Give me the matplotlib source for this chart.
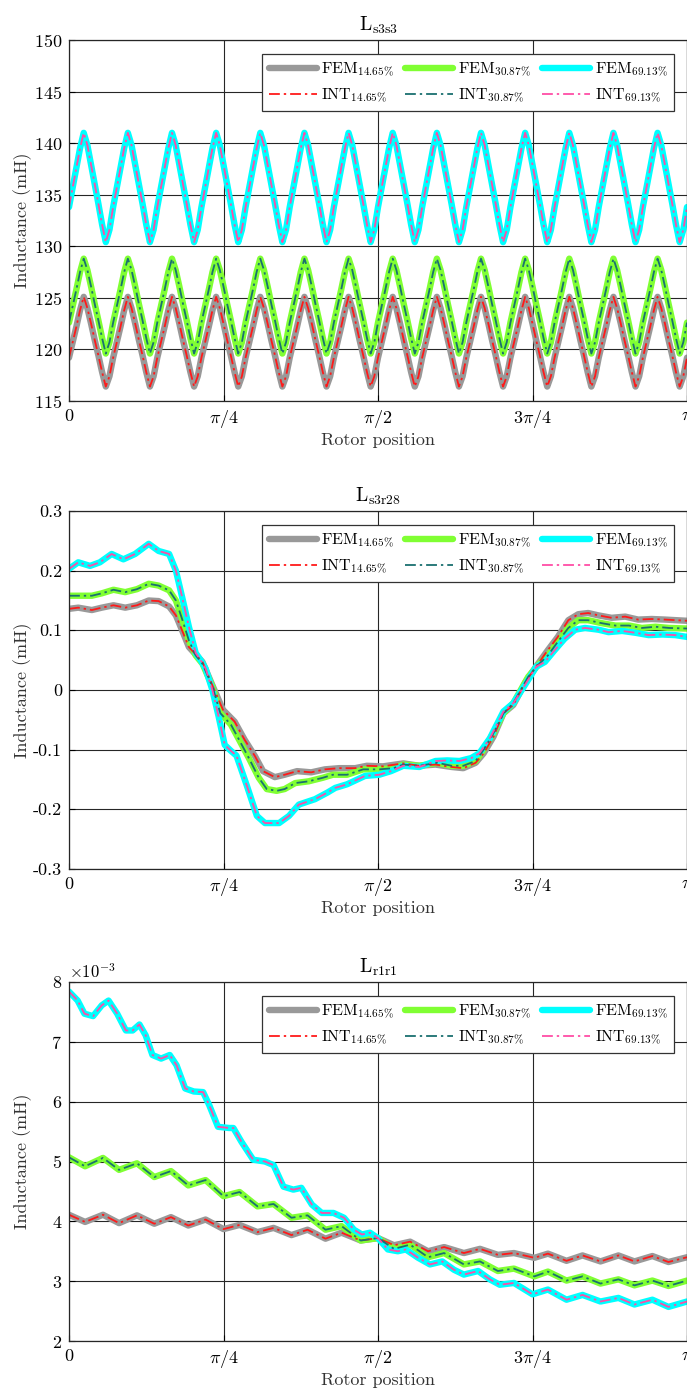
import matplotlib
matplotlib.use("Agg")
import matplotlib.pyplot as plt
import numpy as np

plt.rcParams.update({
    "font.family": "serif",
    "font.serif": ["cmr10"],
    "mathtext.fontset": "cm",
    "axes.formatter.use_mathtext": True,
    "axes.unicode_minus": False,
})

# ---- shared labels / styles ----
SERIES = ["14.65", "30.87", "69.13"]
FEM_COLORS = ["#999999", "#80ff33", "#00ffff"]
INT_COLORS = ["#ff1a1a", "#1a7070", "#ff4da6"]
X_TICKS_PI = [0, 0.25, 0.5, 0.75, 1.0]
X_TICKLABELS = [r"$0$", r"$\pi/4$", r"$\pi/2$", r"$3\pi/4$", r"$\pi$"]

# ---- L_s3s3 (mH): 14 identical slot cycles, 12 readings per cycle ----
N_CYCLES_S3S3 = 14
CYCLE_14_S3S3 = [119.2, 120.7, 122.2, 123.8, 125.1, 124.0, 122.5, 120.9, 119.4, 117.8, 116.4, 117.4]
CYCLE_30_S3S3 = [122.6, 124.2, 125.8, 127.5, 128.8, 127.7, 126.1, 124.4, 122.8, 121.1, 119.6, 120.7]
CYCLE_69_S3S3 = [133.8, 135.7, 137.6, 139.5, 141.0, 139.8, 137.9, 136.0, 134.1, 132.1, 130.4, 131.6]

# ---- L_s3r28 (mH), x in units of pi ----
X14_S3R28 = [0, 0.015, 0.037, 0.053, 0.072, 0.091, 0.110, 0.129, 0.145, 0.162,
             0.173, 0.183, 0.194, 0.216, 0.232, 0.249, 0.268, 0.284, 0.301, 0.314,
             0.333, 0.349, 0.369, 0.392, 0.414, 0.437, 0.463, 0.482, 0.508, 0.541,
             0.567, 0.593, 0.619, 0.638, 0.658, 0.671, 0.687, 0.703, 0.719, 0.739,
             0.759, 0.775, 0.791, 0.808, 0.824, 0.840, 0.857, 0.878, 0.900, 0.921,
             0.943, 0.965, 1.0]
Y14_S3R28 = [0.136, 0.138, 0.134, 0.138, 0.142, 0.138, 0.142, 0.150, 0.149, 0.140,
             0.125, 0.100, 0.072, 0.047, 0.008, -0.033, -0.053, -0.083, -0.111, -0.136,
             -0.146, -0.142, -0.136, -0.138, -0.133, -0.131, -0.131, -0.127, -0.128, -0.123,
             -0.127, -0.125, -0.129, -0.131, -0.122, -0.106, -0.078, -0.039, -0.025, 0.014,
             0.044, 0.067, 0.089, 0.117, 0.127, 0.129, 0.125, 0.121, 0.123, 0.118,
             0.119, 0.118, 0.116]
X30_S3R28 = [0, 0.015, 0.037, 0.053, 0.072, 0.091, 0.110, 0.129, 0.145, 0.162,
             0.173, 0.183, 0.194, 0.205, 0.216, 0.232, 0.245, 0.262, 0.275, 0.291,
             0.307, 0.320, 0.336, 0.349, 0.366, 0.388, 0.411, 0.427, 0.450, 0.476,
             0.502, 0.525, 0.541, 0.567, 0.596, 0.619, 0.638, 0.658, 0.671, 0.687,
             0.703, 0.719, 0.743, 0.759, 0.775, 0.791, 0.808, 0.824, 0.840, 0.862,
             0.884, 0.906, 0.927, 0.949, 0.971, 1.0]
Y30_S3R28 = [0.158, 0.158, 0.158, 0.162, 0.168, 0.164, 0.169, 0.178, 0.175, 0.167,
             0.150, 0.119, 0.083, 0.058, 0.044, 0.006, -0.039, -0.058, -0.083, -0.114,
             -0.147, -0.166, -0.169, -0.166, -0.156, -0.153, -0.147, -0.142, -0.142, -0.133,
             -0.133, -0.131, -0.125, -0.127, -0.122, -0.127, -0.127, -0.119, -0.100, -0.072,
             -0.039, -0.022, 0.022, 0.042, 0.058, 0.081, 0.104, 0.117, 0.117, 0.112,
             0.108, 0.108, 0.104, 0.106, 0.104, 0.103]
X69_S3R28 = [0, 0.015, 0.034, 0.050, 0.069, 0.088, 0.107, 0.129, 0.145, 0.162,
             0.173, 0.183, 0.194, 0.205, 0.213, 0.221, 0.232, 0.242, 0.252, 0.262,
             0.271, 0.288, 0.304, 0.317, 0.340, 0.356, 0.372, 0.398, 0.418, 0.431,
             0.450, 0.479, 0.502, 0.521, 0.541, 0.567, 0.593, 0.612, 0.632, 0.651,
             0.664, 0.681, 0.703, 0.719, 0.743, 0.756, 0.770, 0.786, 0.802, 0.819,
             0.835, 0.857, 0.873, 0.895, 0.916, 0.938, 0.960, 0.981, 1.0]
Y69_S3R28 = [0.203, 0.214, 0.208, 0.214, 0.228, 0.219, 0.228, 0.245, 0.233, 0.228,
             0.200, 0.156, 0.106, 0.062, 0.050, 0.036, 0.000, -0.044, -0.092, -0.102,
             -0.110, -0.161, -0.211, -0.223, -0.223, -0.211, -0.192, -0.183, -0.172, -0.164,
             -0.158, -0.144, -0.142, -0.136, -0.127, -0.129, -0.119, -0.118, -0.119, -0.114,
             -0.106, -0.081, -0.036, -0.022, 0.017, 0.039, 0.047, 0.067, 0.086, 0.101,
             0.104, 0.101, 0.097, 0.099, 0.096, 0.092, 0.093, 0.092, 0.089]

# ---- L_r1r1 (x1e-3 mH), x in units of pi ----
X_R1R1 = [0, 0.026, 0.055, 0.081, 0.110, 0.138, 0.165, 0.193, 0.221, 0.250,
          0.276, 0.305, 0.331, 0.360, 0.386, 0.415, 0.441, 0.472, 0.500, 0.526,
          0.552, 0.581, 0.607, 0.639, 0.665, 0.694, 0.720, 0.753, 0.775, 0.805,
          0.831, 0.860, 0.889, 0.915, 0.944, 0.970, 1.0]
Y14_R1R1 = [4.11, 3.99, 4.11, 3.97, 4.10, 3.96, 4.07, 3.93, 4.03, 3.87,
            3.94, 3.82, 3.89, 3.77, 3.86, 3.71, 3.81, 3.68, 3.72, 3.60,
            3.66, 3.50, 3.57, 3.47, 3.54, 3.44, 3.47, 3.39, 3.46, 3.34,
            3.43, 3.33, 3.43, 3.33, 3.42, 3.32, 3.40]
Y30_R1R1 = [5.07, 4.92, 5.06, 4.86, 4.97, 4.74, 4.84, 4.60, 4.69, 4.42,
            4.49, 4.25, 4.29, 4.06, 4.10, 3.86, 3.92, 3.68, 3.72, 3.54,
            3.61, 3.40, 3.47, 3.28, 3.33, 3.17, 3.21, 3.08, 3.16, 3.01,
            3.08, 2.96, 3.03, 2.93, 3.01, 2.92, 3.01]
X69_R1R1 = [0, 0.014, 0.025, 0.039, 0.053, 0.064, 0.078, 0.092, 0.103, 0.114,
            0.124, 0.135, 0.149, 0.163, 0.174, 0.188, 0.202, 0.217, 0.227, 0.241,
            0.259, 0.266, 0.279, 0.298, 0.317, 0.331, 0.347, 0.363, 0.376, 0.393,
            0.409, 0.428, 0.445, 0.461, 0.474, 0.487, 0.500, 0.516, 0.532, 0.545,
            0.565, 0.584, 0.604, 0.623, 0.639, 0.662, 0.681, 0.697, 0.720, 0.750,
            0.775, 0.805, 0.831, 0.860, 0.889, 0.915, 0.944, 0.970, 1.0]
Y69_R1R1 = [7.84, 7.69, 7.47, 7.43, 7.61, 7.69, 7.47, 7.19, 7.19, 7.29,
            7.11, 6.78, 6.72, 6.78, 6.61, 6.22, 6.17, 6.16, 5.94, 5.58,
            5.56, 5.56, 5.33, 5.03, 5.00, 4.94, 4.58, 4.53, 4.56, 4.28,
            4.14, 4.14, 4.06, 3.86, 3.78, 3.81, 3.72, 3.53, 3.50, 3.53,
            3.39, 3.28, 3.33, 3.19, 3.11, 3.17, 3.03, 2.94, 2.97, 2.78,
            2.86, 2.69, 2.77, 2.66, 2.72, 2.61, 2.69, 2.57, 2.66]


def full_cycles(cycle, n):
    return cycle * n + [cycle[0]]


def draw_panel(ax, xs, ys, title, ylim, yticks, yticklabels=None):
    fem_handles, int_handles = [], []
    for x, y, c, s in zip(xs, ys, FEM_COLORS, SERIES):
        h, = ax.plot(np.asarray(x) * np.pi, y, color=c, lw=4.6, solid_capstyle="round",
                     solid_joinstyle="round", label=r"$\mathrm{FEM}_{%s\%%}$" % s)
        fem_handles.append(h)
    for x, y, c, s in zip(xs, ys, INT_COLORS, SERIES):
        h, = ax.plot(np.asarray(x) * np.pi, y, color=c, lw=1.3, ls=(0, (6, 2.2, 1.3, 2.2)),
                     label=r"$\mathrm{INT}_{%s\%%}$" % s)
        int_handles.append(h)

    ax.set_xlim(0, np.pi)
    ax.set_ylim(*ylim)
    ax.set_xticks(np.asarray(X_TICKS_PI) * np.pi)
    ax.set_xticklabels(X_TICKLABELS)
    ax.set_yticks(yticks)
    if yticklabels is not None:
        ax.set_yticklabels(yticklabels)
    ax.tick_params(direction="in", length=4, labelsize=13, width=0.8)
    ax.tick_params(axis="x", pad=5)
    ax.tick_params(axis="y", pad=5)
    ax.grid(True, color="#262626", lw=0.8)
    ax.set_axisbelow(True)
    for sp in ax.spines.values():
        sp.set_linewidth(0.9)
        sp.set_color("#262626")

    ax.set_title(title, fontsize=14, pad=7)
    ax.set_xlabel("Rotor position", fontsize=13, labelpad=2, color="#333333")
    ax.set_ylabel("Inductance (mH)", fontsize=13, color="#333333")
    ax.yaxis.set_label_coords(-37 / 618, 0.5)

    order = [fem_handles[0], int_handles[0], fem_handles[1], int_handles[1],
             fem_handles[2], int_handles[2]]
    leg = ax.legend(handles=order, ncol=3, loc="upper right",
                    bbox_to_anchor=(1 - 13 / 618, 1 - 14 / 361),
                    fontsize=11.5, handlelength=3.0, handletextpad=0.3,
                    columnspacing=0.7, labelspacing=0.5, borderpad=0.4,
                    fancybox=False, framealpha=1.0, borderaxespad=0)
    leg.get_frame().set_edgecolor("#333333")
    leg.get_frame().set_linewidth(0.9)
    return ax


fig = plt.figure(figsize=(6.87, 13.93), dpi=100)
W = 687.0
H = 1393.0
left = 69 / W
width = 618 / W

ax1 = fig.add_axes([left, 1 - 401 / H, width, 361 / H])
x1 = np.linspace(0, 1, N_CYCLES_S3S3 * len(CYCLE_14_S3S3) + 1)
draw_panel(ax1, [x1, x1, x1],
           [full_cycles(CYCLE_14_S3S3, N_CYCLES_S3S3),
            full_cycles(CYCLE_30_S3S3, N_CYCLES_S3S3),
            full_cycles(CYCLE_69_S3S3, N_CYCLES_S3S3)],
           r"$\mathrm{L}_{\mathrm{s3s3}}$", (115, 150), np.arange(115, 151, 5))

ax2 = fig.add_axes([left, 1 - 869 / H, width, 358 / H])
y2_ticks = [-0.3, -0.2, -0.1, 0, 0.1, 0.2, 0.3]
y2_labels = ["-0.3", "-0.2", "-0.1", "0", "0.1", "0.2", "0.3"]
draw_panel(ax2, [X14_S3R28, X30_S3R28, X69_S3R28],
           [Y14_S3R28, Y30_S3R28, Y69_S3R28],
           r"$\mathrm{L}_{\mathrm{s3r28}}$", (-0.3, 0.3), y2_ticks, y2_labels)

ax3 = fig.add_axes([left, 1 - 1341 / H, width, 359 / H])
draw_panel(ax3, [X_R1R1, X_R1R1, X69_R1R1],
           [np.asarray(Y14_R1R1) * 1e-3, np.asarray(Y30_R1R1) * 1e-3,
            np.asarray(Y69_R1R1) * 1e-3],
           r"$\mathrm{L}_{\mathrm{r1r1}}$", (2e-3, 8e-3), np.arange(2, 9) * 1e-3)
ax3.ticklabel_format(axis="y", style="sci", scilimits=(0, 0), useMathText=True)
ax3.yaxis.get_offset_text().set_fontsize(12)

fig.savefig("out.png", dpi=100)
